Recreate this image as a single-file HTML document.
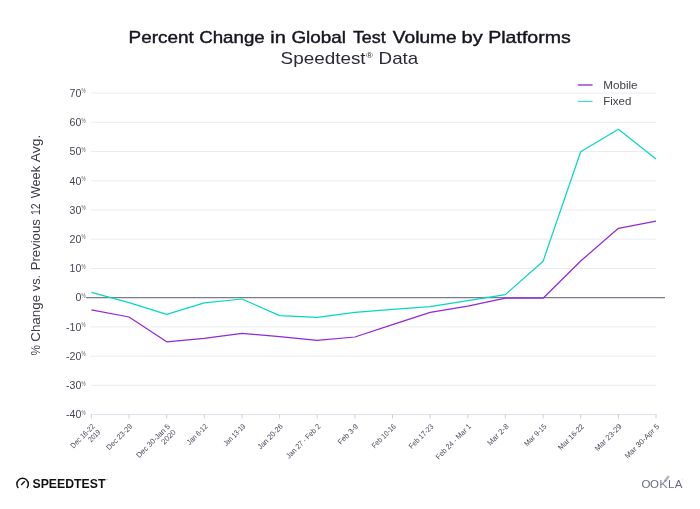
<!DOCTYPE html>
<html lang="en">
<head>
<meta charset="utf-8">
<title>Percent Change in Global Test Volume by Platforms</title>
<style>
html,body{margin:0;padding:0;background:#fff;}
body{width:700px;height:509px;overflow:hidden;font-family:"Liberation Sans",sans-serif;}
svg{display:block;will-change:transform;}
text{font-family:"Liberation Sans",sans-serif;}
.title{font-weight:normal;font-size:16.2px;fill:#15151f;stroke:#15151f;stroke-width:0.4px;}
.sub{font-size:16.2px;fill:#2a2a36;}
.ytick{font-size:10.6px;fill:#454556;}
.pct{font-size:7px;fill:#555566;}
.xl{font-size:7.6px;fill:#474758;}
.ylab{font-size:12.5px;fill:#3b3b49;}
.leg{font-size:10.4px;fill:#40404a;}
.grid{stroke:#eaebf1;stroke-width:1;}
</style>
</head>
<body>
<svg width="700" height="509" viewBox="0 0 700 509">
<rect width="700" height="509" fill="#ffffff"/>
<text class="title" x="128.6" y="43" textLength="65.2" lengthAdjust="spacingAndGlyphs">Percent</text>
<text class="title" x="199.2" y="43" textLength="65.6" lengthAdjust="spacingAndGlyphs">Change</text>
<text class="title" x="270.2" y="43" textLength="15.6" lengthAdjust="spacingAndGlyphs">in</text>
<text class="title" x="291.4" y="43" textLength="54.6" lengthAdjust="spacingAndGlyphs">Global</text>
<text class="title" x="352.9" y="43" textLength="32.9" lengthAdjust="spacingAndGlyphs">Test</text>
<text class="title" x="392.8" y="43" textLength="63.8" lengthAdjust="spacingAndGlyphs">Volume</text>
<text class="title" x="461.6" y="43" textLength="21.2" lengthAdjust="spacingAndGlyphs">by</text>
<text class="title" x="488.2" y="43" textLength="82.6" lengthAdjust="spacingAndGlyphs">Platforms</text>
<text class="sub" x="280.6" y="63.5" textLength="85" lengthAdjust="spacingAndGlyphs">Speedtest</text>
<text x="366" y="57.6" font-size="7.6" fill="#2a2a36" textLength="7" lengthAdjust="spacingAndGlyphs">®</text>
<text class="sub" x="378.6" y="63.5" textLength="39.6" lengthAdjust="spacingAndGlyphs">Data</text>
<line class="grid" x1="91" y1="93.1" x2="656.5" y2="93.1"/>
<line class="grid" x1="91" y1="122.3" x2="656.5" y2="122.3"/>
<line class="grid" x1="91" y1="151.5" x2="656.5" y2="151.5"/>
<line class="grid" x1="91" y1="180.8" x2="656.5" y2="180.8"/>
<line class="grid" x1="91" y1="210.0" x2="656.5" y2="210.0"/>
<line class="grid" x1="91" y1="239.2" x2="656.5" y2="239.2"/>
<line class="grid" x1="91" y1="268.5" x2="656.5" y2="268.5"/>
<line class="grid" x1="91" y1="326.9" x2="656.5" y2="326.9"/>
<line class="grid" x1="91" y1="356.2" x2="656.5" y2="356.2"/>
<line class="grid" x1="91" y1="385.4" x2="656.5" y2="385.4"/>
<line x1="91" y1="414.6" x2="656.5" y2="414.6" stroke="#dfe0ea" stroke-width="1"/>
<line x1="91.4" y1="414.6" x2="91.4" y2="418.4" stroke="#bfc2d4" stroke-width="0.8"/>
<line x1="129.0" y1="414.6" x2="129.0" y2="418.4" stroke="#bfc2d4" stroke-width="0.8"/>
<line x1="166.7" y1="414.6" x2="166.7" y2="418.4" stroke="#bfc2d4" stroke-width="0.8"/>
<line x1="204.3" y1="414.6" x2="204.3" y2="418.4" stroke="#bfc2d4" stroke-width="0.8"/>
<line x1="242.0" y1="414.6" x2="242.0" y2="418.4" stroke="#bfc2d4" stroke-width="0.8"/>
<line x1="279.6" y1="414.6" x2="279.6" y2="418.4" stroke="#bfc2d4" stroke-width="0.8"/>
<line x1="317.2" y1="414.6" x2="317.2" y2="418.4" stroke="#bfc2d4" stroke-width="0.8"/>
<line x1="354.9" y1="414.6" x2="354.9" y2="418.4" stroke="#bfc2d4" stroke-width="0.8"/>
<line x1="392.5" y1="414.6" x2="392.5" y2="418.4" stroke="#bfc2d4" stroke-width="0.8"/>
<line x1="430.2" y1="414.6" x2="430.2" y2="418.4" stroke="#bfc2d4" stroke-width="0.8"/>
<line x1="467.8" y1="414.6" x2="467.8" y2="418.4" stroke="#bfc2d4" stroke-width="0.8"/>
<line x1="505.4" y1="414.6" x2="505.4" y2="418.4" stroke="#bfc2d4" stroke-width="0.8"/>
<line x1="543.1" y1="414.6" x2="543.1" y2="418.4" stroke="#bfc2d4" stroke-width="0.8"/>
<line x1="580.7" y1="414.6" x2="580.7" y2="418.4" stroke="#bfc2d4" stroke-width="0.8"/>
<line x1="618.4" y1="414.6" x2="618.4" y2="418.4" stroke="#bfc2d4" stroke-width="0.8"/>
<line x1="656.0" y1="414.6" x2="656.0" y2="418.4" stroke="#bfc2d4" stroke-width="0.8"/>
<text class="ytick" x="81.4" y="96.8" text-anchor="end">70</text>
<text class="pct" x="81.6" y="93.3" textLength="4" lengthAdjust="spacingAndGlyphs">%</text>
<text class="ytick" x="81.4" y="126.0" text-anchor="end">60</text>
<text class="pct" x="81.6" y="122.5" textLength="4" lengthAdjust="spacingAndGlyphs">%</text>
<text class="ytick" x="81.4" y="155.2" text-anchor="end">50</text>
<text class="pct" x="81.6" y="151.7" textLength="4" lengthAdjust="spacingAndGlyphs">%</text>
<text class="ytick" x="81.4" y="184.5" text-anchor="end">40</text>
<text class="pct" x="81.6" y="181.0" textLength="4" lengthAdjust="spacingAndGlyphs">%</text>
<text class="ytick" x="81.4" y="213.7" text-anchor="end">30</text>
<text class="pct" x="81.6" y="210.2" textLength="4" lengthAdjust="spacingAndGlyphs">%</text>
<text class="ytick" x="81.4" y="242.9" text-anchor="end">20</text>
<text class="pct" x="81.6" y="239.4" textLength="4" lengthAdjust="spacingAndGlyphs">%</text>
<text class="ytick" x="81.4" y="272.2" text-anchor="end">10</text>
<text class="pct" x="81.6" y="268.7" textLength="4" lengthAdjust="spacingAndGlyphs">%</text>
<text class="ytick" x="81.4" y="301.4" text-anchor="end">0</text>
<text class="pct" x="81.6" y="297.9" textLength="4" lengthAdjust="spacingAndGlyphs">%</text>
<text class="ytick" x="81.4" y="330.6" text-anchor="end">-10</text>
<text class="pct" x="81.6" y="327.1" textLength="4" lengthAdjust="spacingAndGlyphs">%</text>
<text class="ytick" x="81.4" y="359.9" text-anchor="end">-20</text>
<text class="pct" x="81.6" y="356.4" textLength="4" lengthAdjust="spacingAndGlyphs">%</text>
<text class="ytick" x="81.4" y="389.1" text-anchor="end">-30</text>
<text class="pct" x="81.6" y="385.6" textLength="4" lengthAdjust="spacingAndGlyphs">%</text>
<text class="ytick" x="81.4" y="418.3" text-anchor="end">-40</text>
<text class="pct" x="81.6" y="414.8" textLength="4" lengthAdjust="spacingAndGlyphs">%</text>
<line x1="86" y1="297.7" x2="665" y2="297.7" stroke="#7b7b8c" stroke-width="1.2"/>
<polyline points="91.4,292.3 129.0,302.6 166.7,314.4 204.3,302.8 242.0,299.0 279.6,315.6 317.2,317.3 354.9,312.4 392.5,309.4 430.2,306.7 467.8,300.6 505.4,294.6 543.1,261.2 580.7,151.8 618.4,129.3 656.0,159.0" fill="none" stroke="#04d8c1" stroke-width="1.22" stroke-linejoin="round"/>
<polyline points="91.4,309.8 129.0,317.0 166.7,341.8 204.3,338.4 242.0,333.4 279.6,336.6 317.2,340.4 354.9,337.0 392.5,324.6 430.2,312.3 467.8,306.2 505.4,298.2 543.1,298.2 580.7,261.0 618.4,228.3 656.0,221.2" fill="none" stroke="#9128d9" stroke-width="1.22" stroke-linejoin="round"/>
<text class="xl" text-anchor="end" transform="translate(95.2,427.0) rotate(-45)" textLength="30.6" lengthAdjust="spacingAndGlyphs">Dec 16-22</text>
<text class="xl" text-anchor="end" transform="translate(101.0,432.8) rotate(-45)" textLength="13.8" lengthAdjust="spacingAndGlyphs">2019</text>
<text class="xl" text-anchor="end" transform="translate(132.8,427.0) rotate(-45)" textLength="33.2" lengthAdjust="spacingAndGlyphs">Dec 23-29</text>
<text class="xl" text-anchor="end" transform="translate(170.5,427.0) rotate(-45)" textLength="44.2" lengthAdjust="spacingAndGlyphs">Dec 30-Jan 5</text>
<text class="xl" text-anchor="end" transform="translate(176.3,432.8) rotate(-45)" textLength="17.1" lengthAdjust="spacingAndGlyphs">2020</text>
<text class="xl" text-anchor="end" transform="translate(208.1,427.0) rotate(-45)" textLength="25.8" lengthAdjust="spacingAndGlyphs">Jan 6-12</text>
<text class="xl" text-anchor="end" transform="translate(245.8,427.0) rotate(-45)" textLength="27.4" lengthAdjust="spacingAndGlyphs">Jan 13-19</text>
<text class="xl" text-anchor="end" transform="translate(283.4,427.0) rotate(-45)" textLength="32.3" lengthAdjust="spacingAndGlyphs">Jan 20-26</text>
<text class="xl" text-anchor="end" transform="translate(321.0,427.0) rotate(-45)" textLength="45.2" lengthAdjust="spacingAndGlyphs">Jan 27 - Feb 2</text>
<text class="xl" text-anchor="end" transform="translate(358.7,427.0) rotate(-45)" textLength="25.5" lengthAdjust="spacingAndGlyphs">Feb 3-9</text>
<text class="xl" text-anchor="end" transform="translate(396.3,427.0) rotate(-45)" textLength="30.6" lengthAdjust="spacingAndGlyphs">Feb 10-16</text>
<text class="xl" text-anchor="end" transform="translate(434.0,427.0) rotate(-45)" textLength="31.3" lengthAdjust="spacingAndGlyphs">Feb 17-23</text>
<text class="xl" text-anchor="end" transform="translate(471.6,427.0) rotate(-45)" textLength="46.5" lengthAdjust="spacingAndGlyphs">Feb 24 - Mar 1</text>
<text class="xl" text-anchor="end" transform="translate(509.2,427.0) rotate(-45)" textLength="26.9" lengthAdjust="spacingAndGlyphs">Mar 2-8</text>
<text class="xl" text-anchor="end" transform="translate(546.9,427.0) rotate(-45)" textLength="27.8" lengthAdjust="spacingAndGlyphs">Mar 9-15</text>
<text class="xl" text-anchor="end" transform="translate(584.5,427.0) rotate(-45)" textLength="33.3" lengthAdjust="spacingAndGlyphs">Mar 16-22</text>
<text class="xl" text-anchor="end" transform="translate(622.2,427.0) rotate(-45)" textLength="34.7" lengthAdjust="spacingAndGlyphs">Mar 23-29</text>
<text class="xl" text-anchor="end" transform="translate(659.8,427.0) rotate(-45)" textLength="45.3" lengthAdjust="spacingAndGlyphs">Mar 30-Apr 5</text>
<text class="ylab" transform="translate(39.7,355.5) rotate(-90)" textLength="10.5" lengthAdjust="spacingAndGlyphs">%</text>
<text class="ylab" transform="translate(39.7,341.7) rotate(-90)" textLength="46.8" lengthAdjust="spacingAndGlyphs">Change</text>
<text class="ylab" transform="translate(39.7,291.2) rotate(-90)" textLength="16.3" lengthAdjust="spacingAndGlyphs">vs.</text>
<text class="ylab" transform="translate(39.7,270.3) rotate(-90)" textLength="51.1" lengthAdjust="spacingAndGlyphs">Previous</text>
<text class="ylab" transform="translate(39.7,215.1) rotate(-90)" textLength="11.7" lengthAdjust="spacingAndGlyphs">12</text>
<text class="ylab" transform="translate(39.7,198.3) rotate(-90)" textLength="32.4" lengthAdjust="spacingAndGlyphs">Week</text>
<text class="ylab" transform="translate(39.7,162.3) rotate(-90)" textLength="27.7" lengthAdjust="spacingAndGlyphs">Avg.</text>
<line x1="577.7" y1="85" x2="592.6" y2="85" stroke="#b26be6" stroke-width="1.9"/>
<line x1="577.7" y1="101.4" x2="592.6" y2="101.4" stroke="#2fdccb" stroke-width="1.1"/>
<text class="leg" x="603.2" y="88.5" textLength="34.4" lengthAdjust="spacingAndGlyphs">Mobile</text>
<text class="leg" x="603.2" y="105" textLength="28.1" lengthAdjust="spacingAndGlyphs">Fixed</text>
<g fill="none" stroke="#111111" stroke-width="1.5" stroke-linecap="butt">
<path d="M18.3,487.9 A5.75,5.75 0 1 1 26.9,487.9"/>
<line x1="21.2" y1="484.9" x2="24.8" y2="481.3" stroke-width="1.4"/>
</g>
<text x="32.5" y="487.8" font-size="12" font-weight="bold" fill="#111111" textLength="72.9" lengthAdjust="spacingAndGlyphs">SPEEDTEST</text>
<text x="105.6" y="480.3" font-size="1.4" fill="#333333">TM</text>
<line x1="664.6" y1="481.6" x2="668.9" y2="476.1" stroke="#6a6e8c" stroke-width="2.5" opacity="0.5"/>
<text x="641.5 650.1" y="488.1" font-size="11.5" fill="#666a88">OO</text>
<text transform="translate(659.3,488.1) scale(1.1,1)" font-size="11.5" fill="#7f83a0">K</text>
<text x="667.9 674.7" y="488.1" font-size="11.5" fill="#666a88">LA</text>
<text x="682" y="481" font-size="1.8" fill="#6a6e8c">®</text>
</svg>
</body>
</html>
